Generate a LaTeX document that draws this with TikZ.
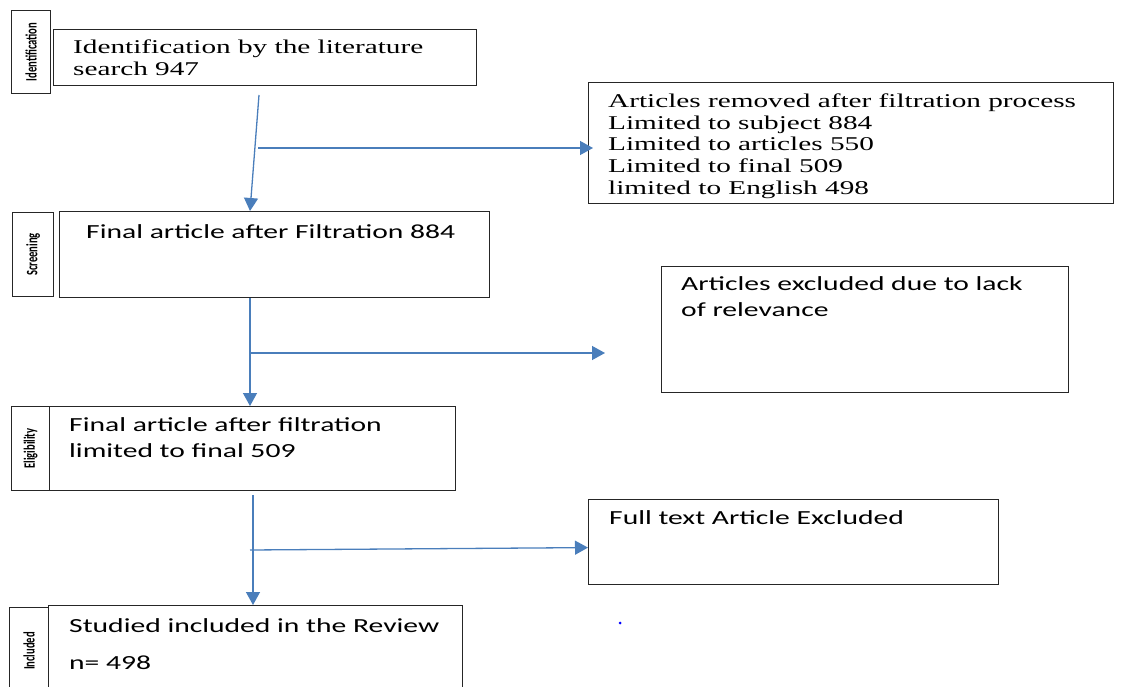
\documentclass[tikz,border=0pt]{standalone}
\usepackage{fontspec}
\usepackage{graphicx}
\usetikzlibrary{arrows.meta,calc}
\setmainfont{Liberation Serif}[FakeStretch=1.5]
\newfontfamily\calibf{Carlito}[FakeStretch=1.48]
\newfontfamily\sidef{Carlito}
\definecolor{arrblue}{HTML}{4A7EBB}
\begin{document}
\begin{tikzpicture}[x=1pt,y=-1pt,
  box/.style={draw=black!85, line width=1.2pt, inner sep=0pt, anchor=north west},
  tt/.style={inner sep=0pt, anchor=north west, align=left, font=\fontsize{19.5}{22.5}\selectfont},
  ct/.style={inner sep=0pt, anchor=north west, align=left, font=\calibf\fontsize{20}{26}\selectfont},
  sidelab/.style={rotate=90, inner sep=0pt, font=\sidef\bfseries\fontsize{10.6}{12}\selectfont},
  arr/.style={draw=arrblue, line width=1.3pt, -{Triangle[length=13pt,width=14pt]}}]
\useasboundingbox (0,0) rectangle (1128,687);
\clip (0,0) rectangle (1128,687);

% left column
\node[box, minimum width=39pt, minimum height=83pt] (sideI) at (11,10) {};
\node[sidelab] (lI) at (sideI.center) {\scalebox{1}[1.5]{Identification}};
\node[box, minimum width=423pt, minimum height=56pt] (boxI) at (53,29) {};
\node[tt] (tI) at (73,39.5) {Identification by the literature\\search 947};

\node[box, minimum width=41pt, minimum height=84pt] (sideS) at (12,212) {};
\node[sidelab] (lS) at (sideS.center) {\scalebox{1}[1.5]{Screening}};
\node[box, minimum width=430pt, minimum height=86pt] (boxS) at (59,211) {};
\node[ct] (tS) at (86,224) {Final article after Filtration 884};

\node[box, minimum width=38pt, minimum height=84pt] (sideE) at (11,406) {};
\node[sidelab] (lE) at (sideE.center) {\scalebox{1}[1.5]{Eligibility}};
\node[box, minimum width=406pt, minimum height=84pt] (boxE) at (49,406) {};
\node[ct] (tE) at (69,417) {Final article after filtration\\limited to final 509};

\node[box, minimum width=39pt, minimum height=100pt] (sideN) at (9,607) {};
\node[sidelab] (lN) at ($(sideN.north)+(0,44)$) {\scalebox{1}[1.5]{Included}};
\node[box, minimum width=414pt, minimum height=100pt] (boxN) at (48,605) {};
\node[ct] (tN) at (69,618) {Studied included in the Review\\[11pt]n= 498};

% right column
\node[box, minimum width=525pt, minimum height=121pt] (rem) at (588,82) {};
\node[tt, font=\fontsize{19.5}{21.7}\selectfont] (tR) at (608,93.5) {Articles removed after filtration process\\Limited to subject 884\\Limited to articles 550\\Limited to final 509\\limited to English 498};

\node[box, minimum width=407pt, minimum height=126pt] (excl) at (661,266) {};
\node[ct] (tX) at (681,276) {Articles excluded due to lack\\of relevance};

\node[box, minimum width=410pt, minimum height=85pt] (full) at (588,499) {};
\node[ct] (tF) at (609,510) {Full text Article Excluded};

% connectors
\coordinate (a1s) at (259,95);
\coordinate (a1m) at (258,148);
\draw[arr] (a1s) -- ($(boxS.north west)+(191,0)$);
\draw[arr] (a1m) -- ($(rem.west |- a1m)+(5,0)$);

\coordinate (a2m) at (250,353);
\draw[arr] ($(boxS.south west)+(191,0)$) -- ($(boxE.north west)+(201,0)$);
\draw[arr] (a2m) -- ($(excl.west |- a2m)+(-56,0)$);

\coordinate (a3s) at (253,495);
\coordinate (a3m) at (250,550);
\draw[arr] (a3s) -- ($(boxN.north west)+(205,0)$);
\draw[arr] (a3m) -- ($(full.west)+(0,5.5)$);

\fill[blue] (620,623) circle (1.5);
\end{tikzpicture}
\end{document}
